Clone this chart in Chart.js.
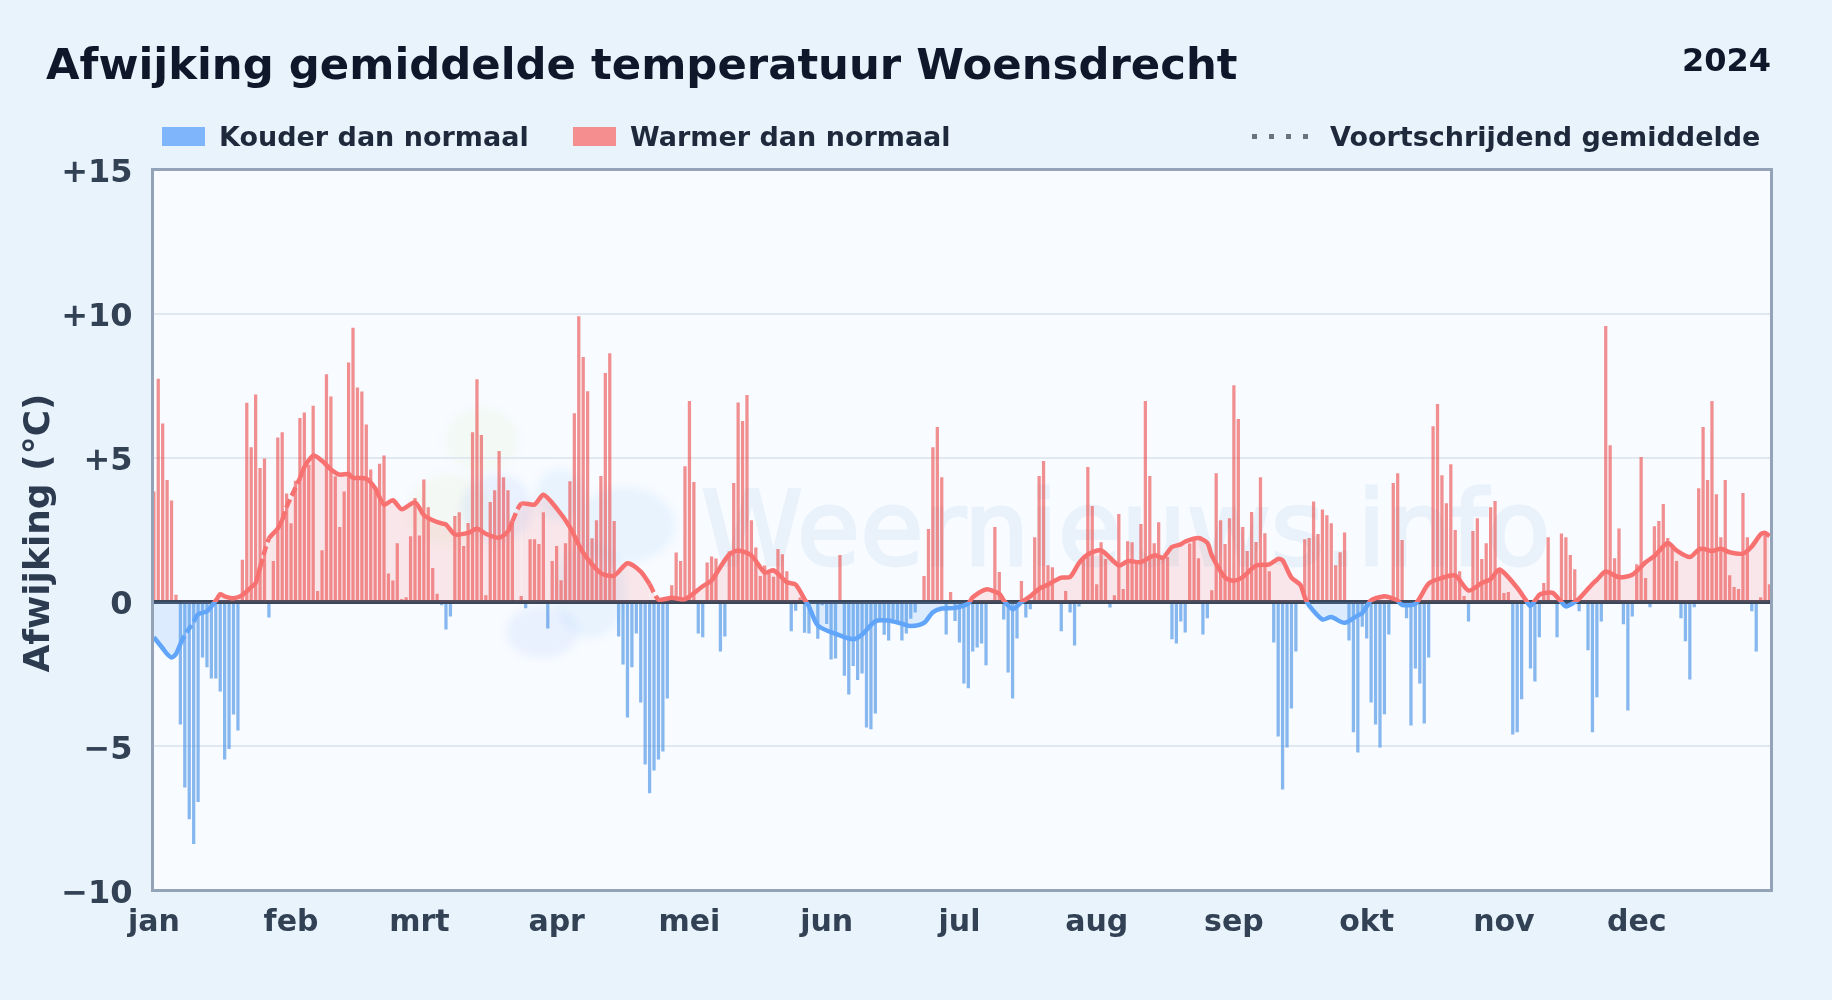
<!DOCTYPE html>
<html lang="nl">
<head>
<meta charset="utf-8">
<title>Afwijking gemiddelde temperatuur Woensdrecht</title>
<script src="https://cdn.jsdelivr.net/npm/chart.js@4"></script>
<style>
    html, body { margin: 0; padding: 0; background: #e8f3fc; }
    body { width: 1832px; height: 1000px; position: relative; overflow: hidden; font-family: "DejaVu Sans", sans-serif; font-weight: bold; }
    canvas { position: absolute; left: 0; top: 0; }
    .txt { position: absolute; white-space: nowrap; line-height: 1; }
    #title { left: 46px; top: 43px; font-size: 43.35px; color: #0f172a; }
    #year { right: 61px; top: 44px; font-size: 32px; color: #0f172a; }
    .legend-label { top: 123px; font-size: 27px; color: #1e293b; }
    .swatch { position: absolute; top: 127px; width: 43px; height: 19px; }
    #dots { position: absolute; left: 1252px; top: 134px; width: 56px; height: 5px; background: repeating-linear-gradient(90deg, #6b7280 0 5px, transparent 5px 17px); }
</style>
</head>
<body>
<canvas id="chartContainer" width="1832" height="1000"></canvas>
<div class="txt" id="title">Afwijking gemiddelde temperatuur Woensdrecht</div>
<div class="txt" id="year">2024</div>
<div class="swatch" style="left:162px;background:#7fb5fb"></div>
<div class="txt legend-label" style="left:219px">Kouder dan normaal</div>
<div class="swatch" style="left:573px;background:#f58f8f"></div>
<div class="txt legend-label" style="left:630px">Warmer dan normaal</div>
<div id="dots"></div>
<div class="txt legend-label" style="left:1330px">Voortschrijdend gemiddelde</div>
<script>
const monthStarts = [0, 31, 60, 91, 121, 152, 182, 213, 244, 274, 305, 335];
const monthLabels = ['jan', 'feb', 'mrt', 'apr', 'mei', 'jun', 'jul', 'aug', 'sep', 'okt', 'nov', 'dec'];
const yTicks = [-10, -5, 0, 5, 10, 15];

// daily deviation, one entry per day of 2024
const janValues = [3.82, 7.73, 6.18, 4.22, 3.51, 0.24, -4.23, -6.42, -7.52, -8.38, -6.92, -1.91, -2.25, -2.64, -2.64, -3.09, -5.45, -5.08, -3.89, -4.44, 1.46, 6.9, 5.36, 7.19, 4.64, 4.97, -0.52, 1.41, 5.7, 5.88, 3.75];
const febValues = [2.72, 4.2, 6.37, 6.56, 4.75, 6.8, 0.37, 1.79, 7.89, 7.12, 4.35, 2.59, 3.82, 8.3, 9.5, 7.43, 7.29, 6.15, 4.59, 3.95, 4.79, 5.07, 0.98, 0.74, 2.03, 0.1, 0.16, 2.27, 3.6];
const mrtValues = [2.3, 4.24, 3.28, 1.17, 0.28, -0.1, -0.94, -0.49, 2.97, 3.1, 1.93, 2.73, 5.88, 7.72, 5.78, 0.23, 3.46, 3.87, 5.23, 4.32, 3.87, 2.77, 0, 0.2, -0.2, 2.17, 2.17, 2.0, 3.1, -0.9, 1.41];
const aprValues = [1.93, 0.75, 2.03, 4.18, 6.54, 9.9, 8.49, 7.3, 2.2, 2.83, 4.36, 7.93, 8.62, 2.8, -1.18, -2.15, -3.99, -2.25, -1.08, -3.47, -5.62, -6.62, -5.83, -5.45, -5.17, -3.33, 0.57, 1.71, 1.41, 4.7];
const meiValues = [6.96, 4.15, -1.08, -1.21, 1.36, 1.57, 1.5, -1.7, -1.18, 1.75, 4.12, 6.91, 6.27, 7.17, 2.83, 1.88, 0.89, 1.26, 0.98, 0.87, 1.83, 1.65, 1.06, -1.0, -0.29, 0.15, -1.05, -1.08, 0, -1.26, -0.1];
const junValues = [-0.75, -1.98, -1.94, 1.62, -2.54, -3.19, -2.2, -2.69, -2.46, -4.34, -4.4, -3.85, -0.58, -1.12, -1.32, -0.58, -0.7, -1.32, -1.08, -0.57, -0.35, 0, 0.89, 2.52, 5.36, 6.06, 4.32, -1.11, 0.34, -0.64];
const julValues = [-1.39, -2.81, -2.98, -1.7, -1.56, -1.42, -2.18, 0, 2.59, 1.03, -0.59, -2.43, -3.33, -1.25, 0.72, -0.52, -0.24, 2.24, 4.36, 4.88, 1.27, 1.2, 0, -1.0, 0.37, -0.35, -1.49, -0.14, 1.45, 4.67, 3.32];
const augValues = [0.61, 2.06, 1.48, -0.18, 0.23, 3.04, 0.44, 2.1, 2.06, 1.33, 2.7, 6.96, 4.36, 2.03, 2.76, 1.5, 1.55, -1.28, -1.42, -0.66, -1.04, 2.02, 2.14, 1.51, -1.11, -0.55, 0.4, 4.46, 2.83, 2.0, 2.9];
const sepValues = [7.51, 6.34, 2.59, 1.76, 3.11, 2.07, 4.32, 2.38, 1.06, -1.39, -4.65, -6.49, -5.03, -3.68, -1.7, 0, 2.17, 2.21, 3.48, 2.35, 3.2, 3.0, 2.72, 1.27, 1.72, 2.4, -1.32, -4.5, -5.2, -0.84];
const oktValues = [-1.25, -3.47, -4.23, -5.03, -3.88, -1.11, 4.12, 4.46, 2.14, -0.55, -4.27, -2.29, -2.81, -4.2, -1.91, 6.09, 6.86, 4.39, 3.42, 4.77, 2.49, 1.06, 0.2, -0.66, 2.45, 2.9, 1.48, 2.03, 3.28, 3.49, 1.1];
const novValues = [0.3, 0.34, -4.58, -4.5, -3.36, 0, -2.29, -2.74, -1.21, 0.65, 2.24, 0, -1.21, 2.37, 2.24, 1.62, 1.13, -0.31, 0, -1.66, -4.5, -3.29, -0.66, 9.56, 5.43, 1.51, 2.54, -0.76, -3.75, -0.49];
const decValues = [1.3, 5.02, 0.82, -0.17, 2.62, 2.8, 3.39, 2.21, 1.91, 1.41, -0.55, -1.35, -2.67, -0.17, 3.94, 6.06, 4.22, 6.96, 3.73, 2.24, 4.22, 0.92, 0.51, 0.44, 3.77, 2.24, -0.31, -1.7, 0.16, 2.4, 0.61];
const dailyValues = [...janValues, ...febValues, ...mrtValues, ...aprValues, ...meiValues, ...junValues, ...julValues, ...augValues, ...sepValues, ...oktValues, ...novValues, ...decValues];

const avgDays = [0, 2, 3, 4, 5, 6, 7, 9, 10, 12, 13, 14, 15, 16, 18, 20, 22, 23, 24, 26, 28, 29, 30, 33, 34, 36, 38, 40, 42, 44, 45, 48, 50, 52, 54, 56, 59, 61, 63, 65, 66, 68, 71, 73, 75, 78, 80, 81, 83, 86, 88, 91, 94, 97, 101, 104, 107, 110, 112, 114, 117, 120, 124, 126, 128, 130, 132, 135, 138, 140, 143, 145, 147, 148, 150, 154, 158, 160, 163, 166, 169, 171, 174, 176, 178, 181, 184, 185, 188, 191, 192, 194, 196, 198, 200, 202, 205, 207, 209, 211, 214, 218, 220, 223, 226, 228, 230, 232, 233, 236, 238, 239, 242, 244, 246, 249, 252, 254, 255, 257, 259, 260, 261, 264, 266, 269, 272, 273, 275, 278, 279, 281, 282, 285, 288, 291, 294, 297, 300, 302, 304, 308, 310, 311, 313, 314, 316, 318, 319, 321, 322, 325, 326, 328, 331, 334, 337, 339, 342, 344, 347, 349, 350, 352, 354, 356, 359, 361, 363, 364, 365];
const avgValues = [-1.22, -1.6, -1.8, -1.92, -1.8, -1.45, -1.15, -0.68, -0.42, -0.32, -0.15, 0.05, 0.27, 0.2, 0.13, 0.24, 0.52, 0.66, 1.2, 2.2, 2.55, 2.85, 3.3, 4.3, 4.68, 5.08, 4.9, 4.6, 4.42, 4.44, 4.31, 4.28, 3.95, 3.38, 3.53, 3.22, 3.46, 3.02, 2.84, 2.73, 2.69, 2.35, 2.4, 2.54, 2.37, 2.23, 2.45, 2.8, 3.41, 3.38, 3.72, 3.25, 2.6, 1.71, 1.0, 0.92, 1.35, 1.06, 0.62, 0.09, 0.15, 0.1, 0.55, 0.75, 1.22, 1.65, 1.79, 1.62, 1.02, 1.1, 0.69, 0.61, 0.1, -0.15, -0.81, -1.1, -1.29, -1.12, -0.66, -0.64, -0.75, -0.83, -0.72, -0.35, -0.22, -0.2, -0.05, 0.17, 0.44, 0.29, 0.06, -0.25, 0, 0.2, 0.46, 0.61, 0.85, 0.87, 1.35, 1.65, 1.79, 1.27, 1.42, 1.39, 1.62, 1.54, 1.91, 2.0, 2.1, 2.22, 2.05, 1.62, 0.85, 0.74, 0.87, 1.27, 1.31, 1.5, 1.45, 0.85, 0.6, 0.17, -0.12, -0.6, -0.52, -0.72, -0.46, -0.38, 0.06, 0.2, 0.17, 0.05, -0.1, -0.06, 0.64, 0.84, 0.92, 0.4, 0.66, 0.79, 1.13, 0.5, 0.06, -0.13, 0.25, 0.31, 0.32, 0, -0.15, 0, 0.12, 0.63, 0.77, 1.06, 0.86, 0.95, 1.38, 1.6, 2.05, 1.79, 1.56, 1.82, 1.85, 1.77, 1.85, 1.73, 1.68, 1.93, 2.35, 2.4, 2.29];

const dashedRanges = [[6, 9], [24, 26], [29, 33], [81, 83], [112, 114]];

function isDashed(day) {
    return dashedRanges.some(r => day >= r[0] && day < r[1]);
}

function lineColor(context) {
    const { chart } = context;
    if (!chart.chartArea) return '#f87171';
    const { top, bottom } = chart.chartArea;
    const stop = (chart.scales.y.getPixelForValue(0) - top) / (bottom - top);
    const gradient = chart.ctx.createLinearGradient(0, top, 0, bottom);
    gradient.addColorStop(0, '#f87171');
    gradient.addColorStop(stop, '#f87171');
    gradient.addColorStop(stop, '#60a5fa');
    gradient.addColorStop(1, '#60a5fa');
    return gradient;
}

// plot background, faint logo and text behind the bars
const plotBackground = {
    id: 'plotBackground',
    beforeDraw(chart) {
        const { ctx, chartArea: a } = chart;
        ctx.save();
        ctx.fillStyle = '#f8fbff';
        ctx.fillRect(a.left, a.top, a.right - a.left, a.bottom - a.top);
        ctx.filter = 'blur(4px)';
        const blobs = [
            [482, 440, 36, 32, 'rgba(190,225,120,0.07)'],
            [450, 510, 42, 36, 'rgba(200,215,120,0.08)'],
            [497, 508, 36, 34, 'rgba(59,130,246,0.08)'],
            [542, 632, 36, 26, 'rgba(59,130,246,0.08)'],
            [560, 495, 24, 26, 'rgba(96,180,250,0.10)'],
            [625, 525, 50, 38, 'rgba(96,180,250,0.10)'],
            [590, 590, 36, 48, 'rgba(96,180,250,0.10)']
        ];
        blobs.forEach(b => {
            ctx.fillStyle = b[4];
            ctx.beginPath();
            ctx.ellipse(b[0], b[1], b[2], b[3], 0, 0, Math.PI * 2);
            ctx.fill();
        });
        ctx.filter = 'none';
        ctx.fillStyle = '#e9f2fb';
        ctx.strokeStyle = '#e9f2fb';
        ctx.lineWidth = 3;
        ctx.font = '103px "DejaVu Sans"';
        ctx.textBaseline = 'alphabetic';
        ctx.strokeText('Weernieuws.info', 701, 565);
        ctx.fillText('Weernieuws.info', 701, 565);
        ctx.restore();
    },
    afterDatasetDraw(chart, args) {
        if (args.index !== 0) return;
        // zero line sits on top of the bars, under the average
        const { ctx, chartArea: a } = chart;
        const y = chart.scales.y.getPixelForValue(0);
        ctx.save();
        ctx.strokeStyle = '#3b4658';
        ctx.lineWidth = 4;
        ctx.beginPath();
        ctx.moveTo(a.left, y);
        ctx.lineTo(a.right, y);
        ctx.stroke();
        ctx.restore();
    },
    afterDraw(chart) {
        const { ctx, chartArea: a } = chart;
        ctx.save();
        ctx.strokeStyle = '#94a3b8';
        ctx.lineWidth = 3;
        ctx.strokeRect(a.left, a.top, a.right - a.left, a.bottom - a.top);
        ctx.restore();
    }
};

// the y labels and title sit a little lower than Chart.js centres them
function nudgeLabels(axis) {
    const drawLabels = axis.drawLabels;
    const drawTitle = axis.drawTitle;
    axis.drawLabels = function (area) {
        axis.ctx.save();
        axis.ctx.translate(0, 2);
        drawLabels.call(axis, area);
        axis.ctx.restore();
    };
    axis.drawTitle = function (area) {
        axis.ctx.save();
        axis.ctx.translate(0, 1.5);
        drawTitle.call(axis, area);
        axis.ctx.restore();
    };
}

new Chart(document.getElementById('chartContainer').getContext('2d'), {
    type: 'bar',
    data: {
        datasets: [
            {
                label: 'Afwijking',
                data: dailyValues.map((v, i) => ({ x: i, y: v })),
                backgroundColor: ctx => ctx.raw && ctx.raw.y < 0 ? 'rgba(80,150,230,0.68)' : 'rgba(235,70,70,0.6)',
                barThickness: 2.6,
                order: 3
            },
            {
                type: 'line',
                label: 'Voortschrijdend gemiddelde',
                data: avgDays.map((d, i) => ({ x: d, y: avgValues[i] })),
                borderColor: lineColor,
                borderWidth: 4.5,
                pointRadius: 0,
                tension: 0.25,
                fill: { target: 'origin', above: 'rgba(248,113,113,0.15)', below: 'rgba(96,165,250,0.18)' },
                segment: { borderDash: ctx => isDashed(avgDays[ctx.p0DataIndex]) ? [9, 4] : undefined },
                order: 1
            }
        ]
    },
    options: {
        responsive: false,
        animation: false,
        layout: { padding: { left: 0, right: 60.5, top: 169.5, bottom: 0 } },
        plugins: { legend: { display: false }, tooltip: { enabled: false } },
        scales: {
            x: {
                type: 'linear',
                min: -0.3,
                max: 365.45,
                offset: false,
                grid: { display: false, drawTicks: false },
                border: { display: false },
                afterBuildTicks: axis => { axis.ticks = monthStarts.map(v => ({ value: v })); },
                afterFit: axis => { axis.height = 109.5; },
                ticks: {
                    autoSkip: false,
                    maxRotation: 0,
                    padding: 15,
                    color: '#334155',
                    font: { family: '"DejaVu Sans"', size: 30, weight: 'bold' },
                    callback: v => monthLabels[monthStarts.indexOf(v)]
                }
            },
            y: {
                min: yTicks[0],
                max: yTicks[yTicks.length - 1],
                grid: { color: '#e2e8f0', lineWidth: 2, drawTicks: false },
                border: { display: false },
                afterFit: axis => { axis.width = 152.5; },
                afterUpdate: nudgeLabels,
                title: {
                    display: true,
                    text: 'Afwijking (°C)',
                    color: '#2d3b50',
                    font: { family: '"DejaVu Sans"', size: 36, weight: 'bold' },
                    padding: { top: 18, bottom: 0 }
                },
                ticks: {
                    stepSize: 5,
                    padding: 20,
                    color: '#334155',
                    font: { family: '"DejaVu Sans"', size: 32, weight: 'bold' },
                    callback: v => v > 0 ? '+' + v : v < 0 ? '\u2212' + Math.abs(v) : '0'
                }
            }
        }
    },
    plugins: [plotBackground]
});
</script>
</body>
</html>
